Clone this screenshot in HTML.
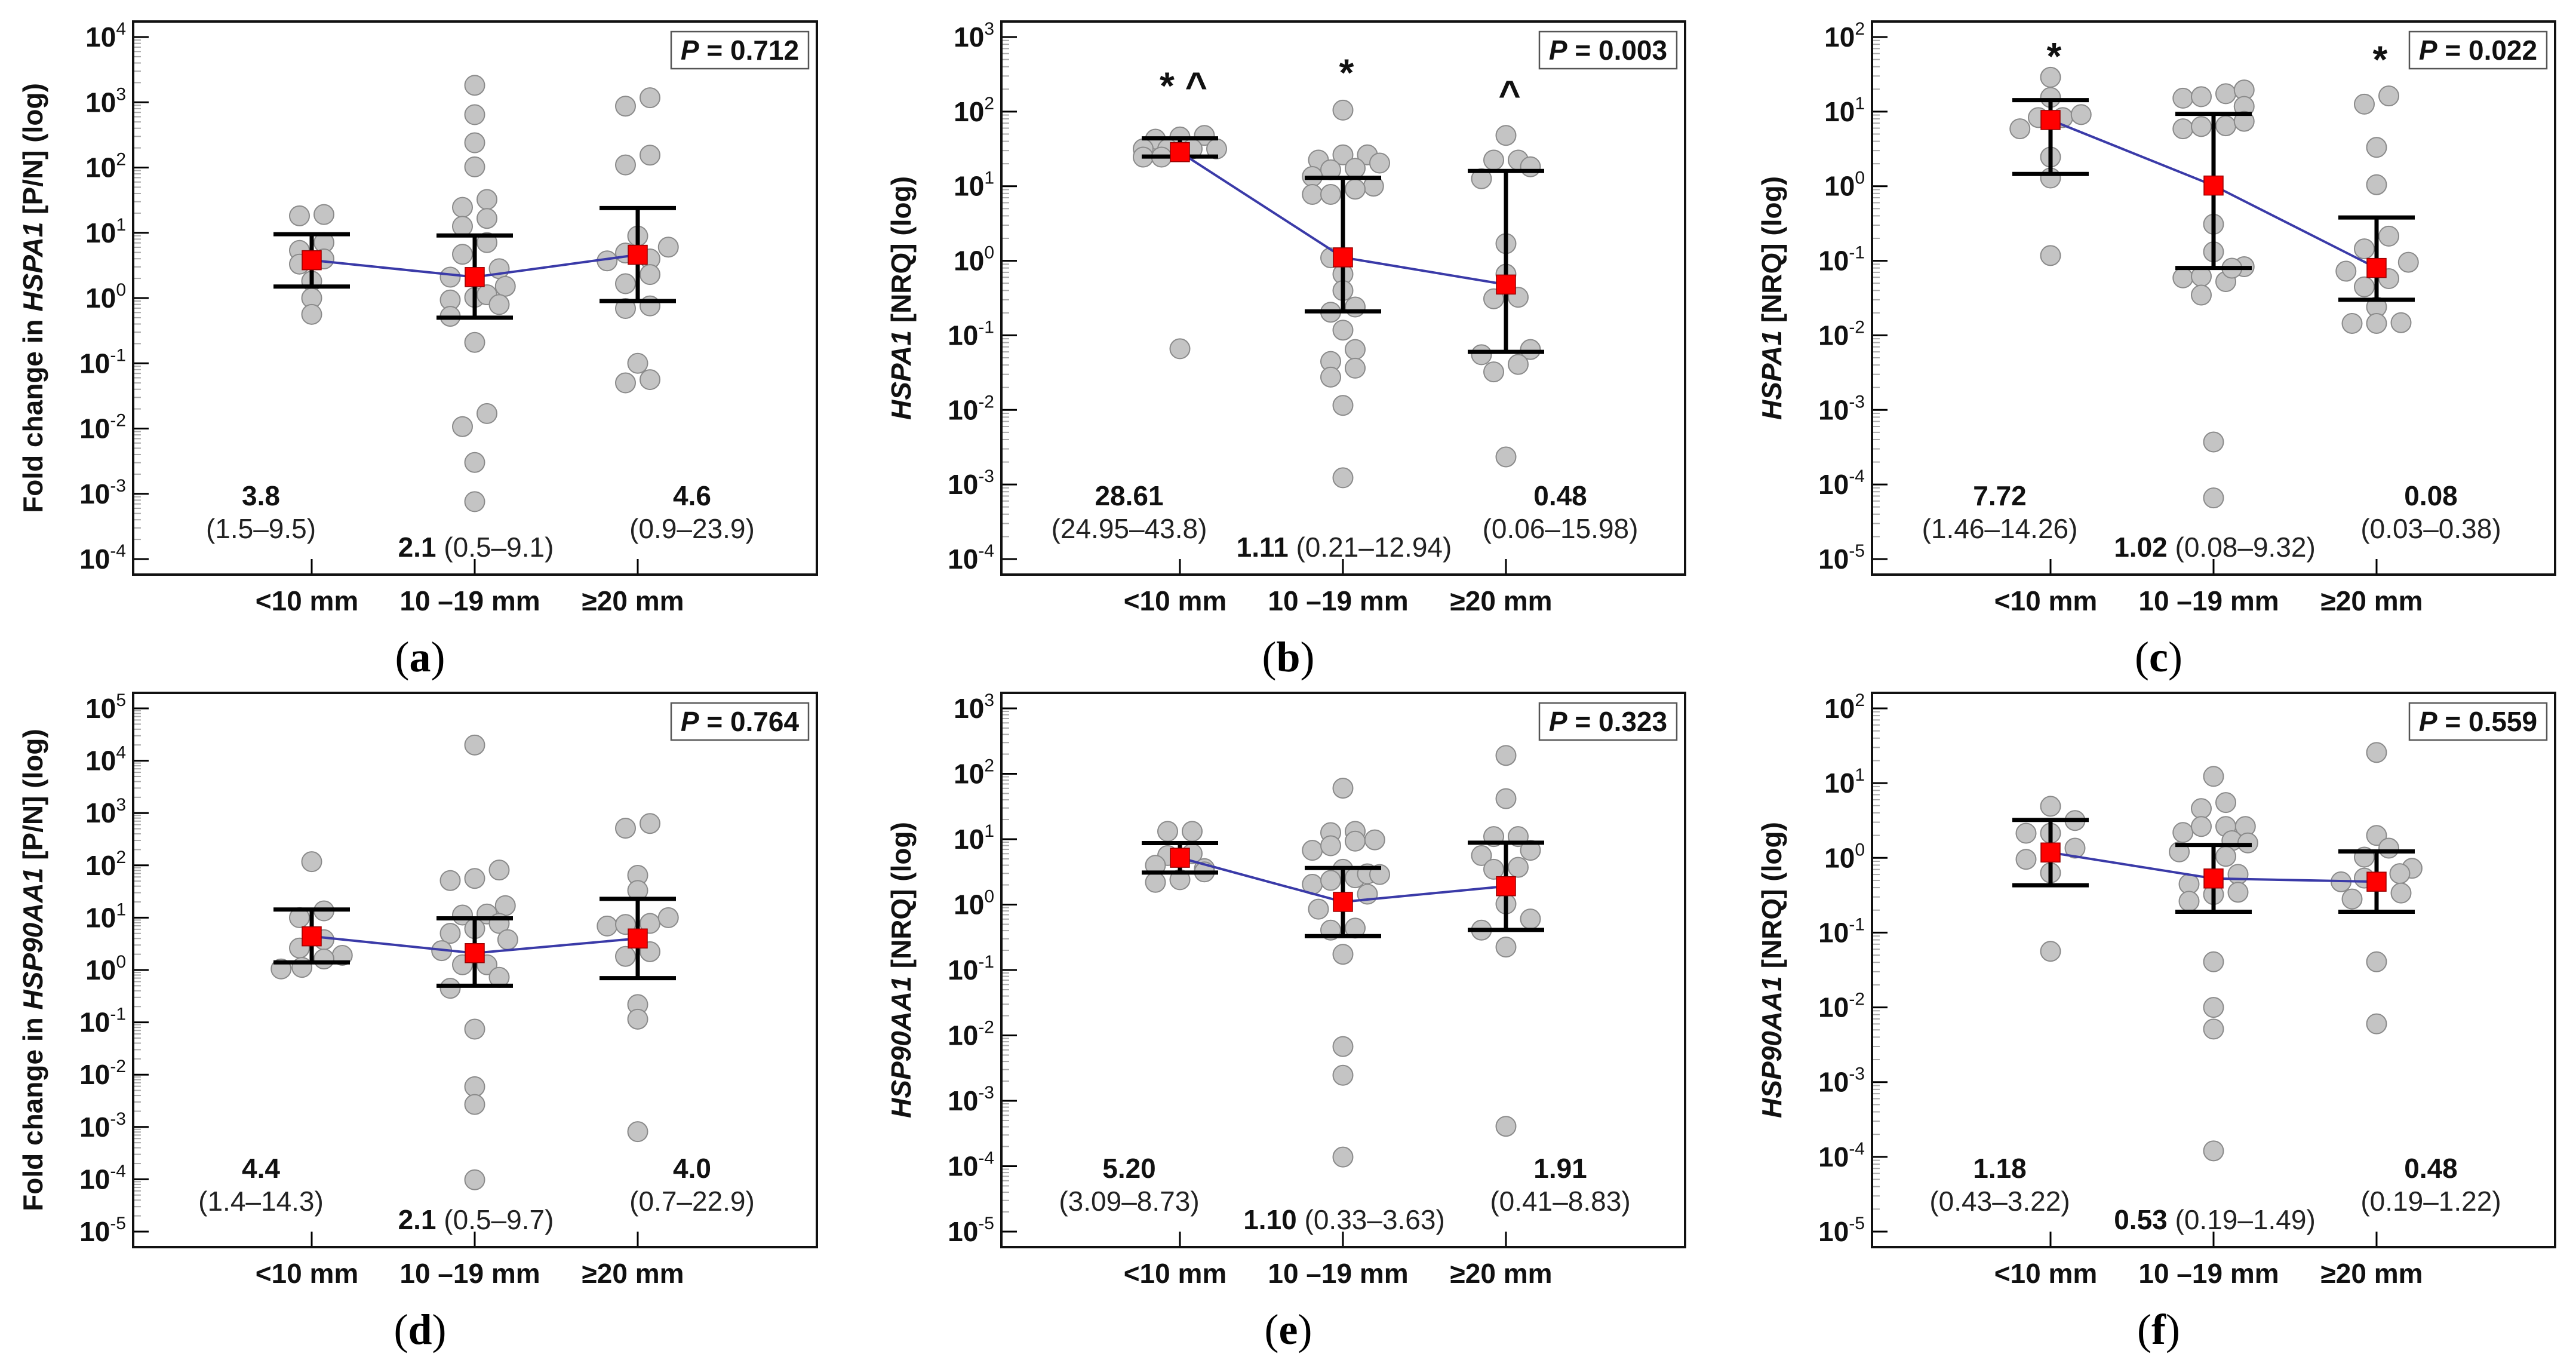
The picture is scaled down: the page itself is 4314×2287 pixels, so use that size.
<!DOCTYPE html>
<html><head><meta charset="utf-8"><style>
html,body{margin:0;padding:0;background:#fff;}
svg{display:block;font-family:"Liberation Sans",Arial,sans-serif;}
</style></head><body>
<svg id="fig" xmlns="http://www.w3.org/2000/svg" width="4314" height="2287" viewBox="0 0 4314 2287">
<rect x="0" y="0" width="4314" height="2287" fill="#fff"/>
</svg>
<script>
const categories = ['<10 mm', '10 –19 mm', '≥20 mm'];

const medA = [3.8, 2.1, 4.6];   const loA = [1.5, 0.5, 0.9];   const hiA = [9.5, 9.1, 23.9];
const medB = [28.61, 1.11, 0.48]; const loB = [24.95, 0.21, 0.06]; const hiB = [43.8, 12.94, 15.98];
const medC = [7.72, 1.02, 0.08]; const loC = [1.46, 0.08, 0.03]; const hiC = [14.26, 9.32, 0.38];
const medD = [4.4, 2.1, 4.0];   const loD = [1.4, 0.5, 0.7];   const hiD = [14.3, 9.7, 22.9];
const medE = [5.20, 1.10, 1.91]; const loE = [3.09, 0.33, 0.41]; const hiE = [8.73, 3.63, 8.83];
const medF = [1.18, 0.53, 0.48]; const loF = [0.43, 0.19, 0.19]; const hiF = [3.22, 1.49, 1.22];

const medTxtA = ['3.8', '2.1', '4.6'];   const rngTxtA = ['(1.5–9.5)', '(0.5–9.1)', '(0.9–23.9)'];
const medTxtB = ['28.61', '1.11', '0.48']; const rngTxtB = ['(24.95–43.8)', '(0.21–12.94)', '(0.06–15.98)'];
const medTxtC = ['7.72', '1.02', '0.08']; const rngTxtC = ['(1.46–14.26)', '(0.08–9.32)', '(0.03–0.38)'];
const medTxtD = ['4.4', '2.1', '4.0'];   const rngTxtD = ['(1.4–14.3)', '(0.5–9.7)', '(0.7–22.9)'];
const medTxtE = ['5.20', '1.10', '1.91']; const rngTxtE = ['(3.09–8.73)', '(0.33–3.63)', '(0.41–8.83)'];
const medTxtF = ['1.18', '0.53', '0.48']; const rngTxtF = ['(0.43–3.22)', '(0.19–1.49)', '(0.19–1.22)'];

// points: [group, jitter slot, log10 value]
const pointsA = [[0,-1,1.26],[0,1,1.28],[0,-1,0.73],[0,1,0.85],[0,-1,0.52],[0,1,0.6],[0,0,0.26],[0,0,0.0],[0,0,-0.25],
 [1,0,3.26],[1,0,2.81],[1,0,2.38],[1,0,2.01],[1,-1,1.39],[1,1,1.51],[1,1,1.22],[1,-1,1.10],[1,1,0.85],[1,-1,0.67],[1,-2,0.32],[1,2,0.45],[1,-2,-0.03],[1,0,0.01],[1,1,0.05],[1,2.5,0.18],[1,2,-0.10],[1,-2,-0.28],[1,0,-0.68],[1,-1,-1.97],[1,1,-1.77],[1,0,-2.52],[1,0,-3.12],
 [2,-1,2.94],[2,1,3.07],[2,-1,2.04],[2,1,2.19],[2,0,0.95],[2,2.5,0.78],[2,-2.5,0.57],[2,-1,0.69],[2,1,0.6],[2,1,0.36],[2,-1,0.22],[2,-1,-0.16],[2,1,-0.12],[2,0,-1.0],[2,-1,-1.3],[2,1,-1.25]];
const pointsB = [[0,-2,1.63],[0,0,1.66],[0,2,1.68],[0,-3,1.5],[0,-1,1.5],[0,1,1.5],[0,3,1.5],[0,-3,1.39],[0,-1.5,1.39],[0,0,-1.18],
 [1,0,2.02],[1,-2,1.35],[1,0,1.42],[1,2,1.42],[1,-1,1.22],[1,1,1.24],[1,3,1.31],[1,-2.5,1.13],[1,2.5,1.0],[1,-2.5,0.89],[1,-1,0.89],[1,1,0.96],[1,-1,0.04],[1,0,-0.18],[1,0,-0.40],[1,-1,-0.69],[1,1,-0.62],[1,0,-0.93],[1,1,-1.19],[1,-1,-1.35],[1,1,-1.44],[1,-1,-1.56],[1,0,-1.94],[1,0,-2.91],
 [2,0,1.68],[2,-1,1.35],[2,1,1.35],[2,2,1.26],[2,-2,1.10],[2,0,0.23],[2,0,-0.18],[2,-1,-0.51],[2,1,-0.49],[2,-2,-1.26],[2,2,-1.19],[2,-1,-1.49],[2,1,-1.39],[2,0,-2.63]];
const pointsC = [[0,0,1.46],[0,0,1.19],[0,-1,0.92],[0,1,0.92],[0,2.5,0.96],[0,-2.5,0.77],[0,0,0.39],[0,0,0.11],[0,0,-0.93],
 [1,-2.5,1.18],[1,-1,1.2],[1,1,1.24],[1,2.5,1.29],[1,2.5,1.07],[1,-2.5,0.77],[1,-1,0.80],[1,1,0.81],[1,2.5,0.87],[1,0,-0.51],[1,0,-0.88],[1,-2.5,-1.23],[1,-1,-1.21],[1,1,-1.28],[1,2.5,-1.08],[1,1.5,-1.1],[1,-1,-1.46],[1,0,-3.43],[1,0,-4.18],
 [2,-1,1.1],[2,1,1.21],[2,0,0.52],[2,0,0.02],[2,-1,-0.84],[2,1,-0.67],[2,2.6,-1.02],[2,-2.5,-1.14],[2,1,-1.24],[2,-1,-1.35],[2,0,-1.62],[2,-2,-1.84],[2,0,-1.84],[2,2,-1.83]];
const pointsD = [[0,0,2.07],[0,-1,1.0],[0,1,1.13],[0,-1,0.42],[0,1,0.58],[0,2.5,0.28],[0,-2.5,0.02],[0,-0.8,0.05],[0,1,0.21],
 [1,0,4.3],[1,-2,1.71],[1,0,1.75],[1,2,1.91],[1,2.5,1.23],[1,-1,1.05],[1,1,1.07],[1,-2,0.70],[1,0,0.79],[1,2,0.89],[1,2.7,0.58],[1,-2.7,0.37],[1,-1,0.1],[1,1,0.1],[1,-2,-0.35],[1,2,-0.14],[1,0,-1.13],[1,0,-2.23],[1,0,-2.57],[1,0,-4.01],
 [2,-1,2.71],[2,1,2.80],[2,0,1.81],[2,0,1.52],[2,-2.5,0.84],[2,-1,0.87],[2,1,0.89],[2,2.5,1.0],[2,-1,0.26],[2,1,0.35],[2,0,-0.66],[2,0,-0.94],[2,0,-3.09]];
const pointsE = [[0,-1,1.12],[0,1,1.12],[0,-1,0.75],[0,1,0.78],[0,-2,0.6],[0,2,0.55],[0,-2,0.34],[0,0,0.38],[0,2,0.5],
 [1,0,1.78],[1,-1,1.10],[1,1,1.12],[1,-2.5,0.83],[1,-1,0.90],[1,1,0.97],[1,2.6,0.99],[1,0,0.54],[1,-2.5,0.31],[1,-1,0.37],[1,1,0.41],[1,2,0.47],[1,3,0.46],[1,2,0.16],[1,-2,-0.07],[1,-1,-0.39],[1,1,-0.36],[1,0,-0.76],[1,0,-2.17],[1,0,-2.61],[1,0,-3.86],
 [2,0,2.28],[2,0,1.62],[2,-1,1.04],[2,1,1.04],[2,-2,0.75],[2,2,0.83],[2,-1,0.54],[2,1,0.57],[2,0,0.01],[2,2,-0.22],[2,-2,-0.39],[2,0,-0.65],[2,0,-3.39]];
const pointsF = [[0,0,0.69],[0,2,0.50],[0,-2,0.33],[0,0,0.33],[0,2,0.13],[0,-2,-0.02],[0,0,-0.2],[0,0,-1.25],
 [1,0,1.09],[1,1,0.74],[1,-1,0.66],[1,-2.5,0.34],[1,-1,0.42],[1,1,0.42],[1,2.6,0.42],[1,1.5,0.23],[1,2.8,0.2],[1,-2.8,0.08],[1,1,0.02],[1,-2,-0.35],[1,2,-0.22],[1,-2,-0.58],[1,2,-0.46],[1,0,-0.49],[1,0,-1.39],[1,0,-2.0],[1,0,-2.29],[1,0,-3.92],
 [2,0,1.41],[2,0,0.30],[2,1,0.13],[2,-1,0.01],[2,2.9,-0.14],[2,1.9,-0.21],[2,-2.9,-0.32],[2,-1,-0.27],[2,-2,-0.55],[2,2,-0.47],[2,0,-1.39],[2,0,-2.22]];

const NS = 'http://www.w3.org/2000/svg';
const svg = document.getElementById('fig');
function mk(parent, tag, attrs) {
  const e = document.createElementNS(NS, tag);
  for (const k in attrs) e.setAttribute(k, attrs[k]);
  parent.appendChild(e);
  return e;
}

const panels = [
  {id:'a', L:223, R:1368, T:36, B:962, eTop:4, eBot:-4, title:['Fold change in ','HSPA1','  [P/N] (log)'], p:'0.712', med:medA, lo:loA, hi:hiA, mt:medTxtA, rt:rngTxtA, pts:pointsA, marks:[]},
  {id:'b', L:1677, R:2822, T:36, B:962, eTop:3, eBot:-4, title:['','HSPA1','  [NRQ] (log)'], p:'0.003', med:medB, lo:loB, hi:hiB, mt:medTxtB, rt:rngTxtB, pts:pointsB, marks:[[0,'* ^',150],[1,'*',126],[2,'^',165]]},
  {id:'c', L:3135, R:4279, T:36, B:962, eTop:2, eBot:-5, title:['','HSPA1','  [NRQ] (log)'], p:'0.022', med:medC, lo:loC, hi:hiC, mt:medTxtC, rt:rngTxtC, pts:pointsC, marks:[[0,'*',96],[2,'*',102]]},
  {id:'d', L:223, R:1368, T:1160, B:2088, eTop:5, eBot:-5, title:['Fold change in ','HSP90AA1',' [P/N] (log)'], p:'0.764', med:medD, lo:loD, hi:hiD, mt:medTxtD, rt:rngTxtD, pts:pointsD, marks:[]},
  {id:'e', L:1677, R:2822, T:1160, B:2088, eTop:3, eBot:-5, title:['','HSP90AA1','  [NRQ] (log)'], p:'0.323', med:medE, lo:loE, hi:hiE, mt:medTxtE, rt:rngTxtE, pts:pointsE, marks:[]},
  {id:'f', L:3135, R:4279, T:1160, B:2088, eTop:2, eBot:-5, title:['','HSP90AA1','  [NRQ] (log)'], p:'0.559', med:medF, lo:loF, hi:hiF, mt:medTxtF, rt:rngTxtF, pts:pointsF, marks:[]}
];

panels.forEach(P => {
  const g = mk(svg, 'g', {});
  
  
  const yT = P.T + 26, yB = P.B - 26;
  const ys = lv => yT + (P.eTop - lv) * (yB - yT) / (P.eTop - P.eBot);
  const xs = (gi, k) => P.L + 299 + gi * 273 + (k || 0) * 20.5;

  // minor ticks
  for (let d = P.eBot; d < P.eTop; d++) {
    for (let m = 2; m <= 9; m++) {
      const y = ys(d + Math.log10(m));
      const t = mk(g, 'line', {x1:P.L, x2:P.L+13, y1:y, y2:y, stroke:'#aaa', 'stroke-width':2});
      
      
    }
  }
  // major ticks + labels
  for (let d = P.eBot; d <= P.eTop; d++) {
    const y = ys(d);
    const t = mk(g, 'line', {x1:P.L, x2:P.L+26, y1:y, y2:y, stroke:'#000', 'stroke-width':3});
    
    
    const tx = mk(g, 'text', {x:P.L-12, y:y+16, 'text-anchor':'end', 'font-size':46, 'font-weight':'bold', fill:'#111'});
    
    
    const s1 = mk(tx, 'tspan', {}); s1.textContent = '10';
    const s2 = mk(tx, 'tspan', {dy:-20, 'font-size':30, 'font-weight':'normal'}); s2.textContent = String(d).replace('-', '-');
  }
  // x ticks and category labels
  categories.forEach((c, i) => {
    const x = xs(i, 0);
    const t = mk(g, 'line', {x1:x, x2:x, y1:P.B, y2:P.B-26, stroke:'#000', 'stroke-width':3});
    
    
    const tl = mk(g, 'text', {x:x-8, y:P.B+60, 'text-anchor':'middle', 'font-size':46, 'font-weight':'bold', fill:'#111'});
    
    
    tl.textContent = c;
  });
  // y title
  const yt = mk(g, 'text', {x:0, y:0, transform:`translate(${P.L-152},${(P.T+P.B)/2}) rotate(-90)`, 'text-anchor':'middle', 'font-size':46, 'font-weight':'bold', fill:'#111', 'xml:space':'preserve'});
  
  
  const t1 = mk(yt, 'tspan', {}); t1.textContent = P.title[0];
  const t2 = mk(yt, 'tspan', {'font-style':'italic'}); t2.textContent = P.title[1];
  const t3 = mk(yt, 'tspan', {}); t3.textContent = P.title[2];

  // points
  P.pts.forEach(pt => {
    const c = mk(g, 'circle', {cx:xs(pt[0], pt[1]), cy:ys(pt[2]), r:16.5, fill:'#c4c4c4', stroke:'#8a8a8a', 'stroke-width':2});
    
    
  });
  // error bars
  P.med.forEach((m, i) => {
    const x = xs(i, 0), yl = ys(Math.log10(P.lo[i])), yh = ys(Math.log10(P.hi[i]));
    const v = mk(g, 'line', {x1:x, x2:x, y1:yl, y2:yh, stroke:'#000', 'stroke-width':7});
    
    
    [yl, yh].forEach(yy => {
      const cp = mk(g, 'line', {x1:x-64, x2:x+64, y1:yy, y2:yy, stroke:'#000', 'stroke-width':7});
      
      
    });
  });
  // median line
  const pl = mk(g, 'polyline', {points:P.med.map((m, i) => xs(i,0) + ',' + ys(Math.log10(m))).join(' '), fill:'none', stroke:'#3a3aa8', 'stroke-width':4});
  
  
  P.med.forEach((m, i) => {
    const sq = mk(g, 'rect', {x:xs(i,0)-16, y:ys(Math.log10(m))-16, width:32, height:32, fill:'#ff0000', stroke:'#900', 'stroke-width':1.5});
    
    
  });
  // frame
  const fr = mk(g, 'rect', {x:P.L, y:P.T, width:P.R-P.L, height:P.B-P.T, fill:'none', stroke:'#111', 'stroke-width':4});
  
  
  // P box
  const pb = mk(g, 'rect', {x:P.R-244, y:P.T+17, width:230, height:62, fill:'#fff', stroke:'#555', 'stroke-width':2.5});
  
  
  const pt = mk(g, 'text', {x:P.R-129, y:P.T+64, 'text-anchor':'middle', 'font-size':46, 'font-weight':'bold', fill:'#111'});
  
  
  const pi = mk(pt, 'tspan', {'font-style':'italic'}); pi.textContent = 'P';
  const pv = mk(pt, 'tspan', {}); pv.textContent = ' = ' + P.p;
  // annotations
  const ax = [xs(0,0)-85, xs(1,0)+2, xs(2,0)+91];
  [0, 2].forEach(i => {
    const a1 = mk(g, 'text', {x:ax[i], y:P.B-116, 'text-anchor':'middle', 'font-size':46, 'font-weight':'bold', fill:'#111'});
    
    
    a1.textContent = P.mt[i];
    const a2 = mk(g, 'text', {x:ax[i], y:P.B-61, 'text-anchor':'middle', 'font-size':46, fill:'#222'});
    
    
    a2.textContent = P.rt[i];
  });
  const am = mk(g, 'text', {x:ax[1], y:P.B-30, 'text-anchor':'middle', 'font-size':46, fill:'#222'});
  
  
  const amb = mk(am, 'tspan', {'font-weight':'bold', fill:'#111'}); amb.textContent = P.mt[1];
  const amr = mk(am, 'tspan', {}); amr.textContent = ' ' + P.rt[1];
  // significance marks
  P.marks.forEach(mr => {
    const s = mk(g, 'text', {x:xs(mr[0],0)+6, y:mr[2]/1.089+28, 'text-anchor':'middle', 'font-size':64, 'font-weight':'bold', fill:'#111'});
    
    
    s.textContent = mr[1];
  });
  // panel letter
  const pl2 = mk(g, 'text', {x:(P.L+P.R)/2-92, y:P.B+162, 'text-anchor':'middle', 'font-size':72, fill:'#000', 'font-family':'"Liberation Serif", serif'});
  
  
  const p1 = mk(pl2, 'tspan', {}); p1.textContent = '(';
  const p2 = mk(pl2, 'tspan', {'font-weight':'bold'}); p2.textContent = P.id;
  const p3 = mk(pl2, 'tspan', {}); p3.textContent = ')';
});
</script>
</body></html>
